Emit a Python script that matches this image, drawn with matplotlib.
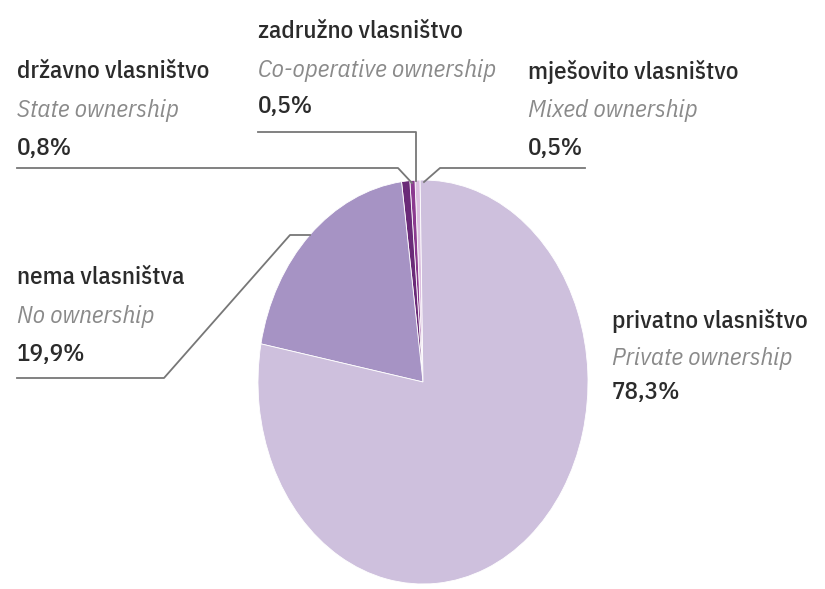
import matplotlib
matplotlib.use("Agg")
import matplotlib.pyplot as plt
from matplotlib import font_manager

names_hr = ["mješovito vlasništvo", "zadružno vlasništvo", "državno vlasništvo",
            "nema vlasništva", "privatno vlasništvo"]
names_en = ["Mixed ownership", "Co-operative ownership", "State ownership",
            "No ownership", "Private ownership"]
values = [0.5, 0.5, 0.8, 19.9, 78.3]
value_labels = ["0,5%", "0,5%", "0,8%", "19,9%", "78,3%"]
colors = ["#dcbfe0", "#8c3a90", "#6a2a78", "#a693c4", "#cec0dd"]

fams = set(f.name for f in font_manager.fontManager.ttflist)
narrow = "DejaVu Sans"
for cand in ["IBM Plex Sans Condensed", "Open Sans Condensed", "Liberation Sans Narrow"]:
    if cand in fams:
        narrow = cand
        break

W, H = 825, 589
fig = plt.figure(figsize=(W / 100, H / 100), dpi=100)
fig.patch.set_facecolor("white")

# pie axes (elliptical as in the reference)
cx0, cy0, cx1, cy1 = 258, 180, 588, 584
axp = fig.add_axes([cx0 / W, 1 - cy1 / H, (cx1 - cx0) / W, (cy1 - cy0) / H])
axp.pie(values, colors=colors, startangle=91, counterclock=True,
        wedgeprops=dict(edgecolor="white", linewidth=0.6))
axp.set_aspect("auto")
axp.set_xlim(-1, 1)
axp.set_ylim(-1, 1)
axp.axis("off")

# overlay axes in pixel coordinates for labels and leader lines
ax = fig.add_axes([0, 0, 1, 1], zorder=5)
ax.set_xlim(0, W)
ax.set_ylim(H, 0)
ax.axis("off")
ax.patch.set_alpha(0)

lc = "#777777"
lw = 1.3
# state
ax.plot([17, 398, 412], [168, 168, 183], color=lc, lw=lw)
# mixed
ax.plot([585, 440, 424], [168, 168, 182], color=lc, lw=lw)
# co-operative
ax.plot([258, 416, 416], [132, 132, 181], color=lc, lw=lw)
# no ownership
ax.plot([17, 164, 290, 310], [378, 378, 235, 235], color=lc, lw=lw)

label_pos = {
    0: (528, [72, 110, 148]),
    1: (258, [32, 70, 107]),
    2: (17, [72, 110, 148]),
    3: (17, [278, 317, 355]),
    4: (612, [321, 358, 393]),
}
fs = 18
for i, (x, ys) in label_pos.items():
    ax.text(x, ys[0], names_hr[i], fontsize=fs, family=narrow, color="#2b2b2b",
            weight="medium", ha="left", va="center")
    ax.text(x, ys[1], names_en[i], fontsize=fs, family=narrow, color="#8a8a8a",
            style="italic", weight="normal", ha="left", va="center")
    ax.text(x, ys[2], value_labels[i], fontsize=fs, family=narrow, color="#2b2b2b",
            weight="medium", ha="left", va="center")

fig.savefig("out.png", dpi=100, facecolor="white")
